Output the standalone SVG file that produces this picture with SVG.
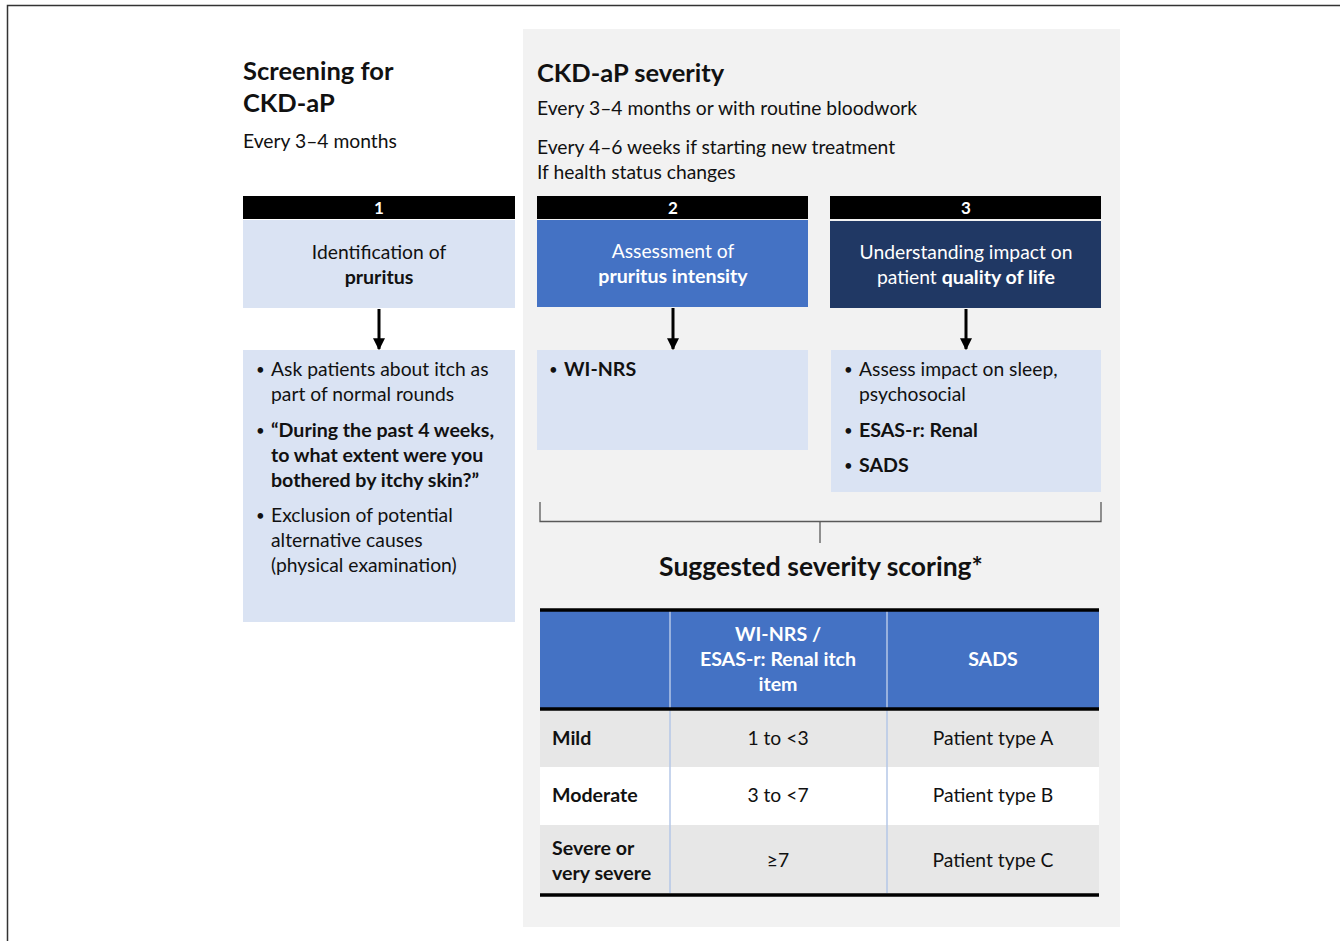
<svg xmlns="http://www.w3.org/2000/svg" width="1340" height="941" viewBox="0 0 1340 941">
<defs>
<style>
text{font-family:Lato,"Liberation Sans",sans-serif;fill:#111}
.t{font-size:25.5px;font-weight:bold}
.t2{font-size:26.5px;font-weight:bold}
.s{font-size:19.3px}
.b{font-weight:bold;font-size:19.6px}
.bu{font-size:15px}
.c{text-anchor:middle}
.w{fill:#fff}
.num{font-size:17px;font-weight:bold;fill:#fff;text-anchor:middle}
.bar{fill:#000}
.lt{fill:#dae3f3}
.conn{stroke:#000;stroke-width:3;fill:none}
.br{stroke:#595959;stroke-width:1.3;fill:none}
.div{stroke:#b4c7e7;stroke-width:1.5}
.rule{stroke:#000;stroke-width:3.5}
</style>
<marker id="ah" viewBox="0 0 10 10" refX="9" refY="5" markerWidth="4" markerHeight="4" markerUnits="strokeWidth" orient="auto">
<path d="M0,0 L10,5 L0,10 z" fill="#000"/>
</marker>
</defs>
<rect width="1340" height="941" fill="#fff"/>
<path d="M7.5,941 V5.5 H1340" stroke="#333" stroke-width="1.5" fill="none"/>

<rect id="panel" x="523" y="29" width="597" height="898" fill="#f2f2f2"/>

<g id="screening-title">
<text class="t" x="243" y="80">Screening for</text>
<text class="t" x="243" y="112">CKD-aP</text>
<text class="s" x="243" y="148">Every 3–4 months</text>
</g>

<g id="severity-title">
<text class="t" x="537" y="82">CKD-aP severity</text>
<text class="s" x="537" y="115">Every 3–4 months or with routine bloodwork</text>
<text class="s" x="537" y="154">Every 4–6 weeks if starting new treatment</text>
<text class="s" x="537" y="179">If health status changes</text>
</g>

<g id="step1">
<rect class="bar" x="243" y="196" width="272" height="23"/>
<text class="num" x="379" y="214">1</text>
<rect class="lt" x="243" y="220" width="272" height="88"/>
<text class="s c" x="379" y="259">Identification of</text>
<text class="s c b" x="379" y="284">pruritus</text>
</g>
<g id="step1-detail">
<rect class="lt" x="243" y="350" width="272" height="272"/>
<text class="bu" x="256" y="375">•</text>
<text class="s" x="271" y="376">Ask patients about itch as</text>
<text class="s" x="271" y="401">part of normal rounds</text>
<text class="bu" x="256" y="436">•</text>
<text class="s b" x="271" y="437">“During the past 4 weeks,</text>
<text class="s b" x="271" y="462">to what extent were you</text>
<text class="s b" x="271" y="487">bothered by itchy skin?”</text>
<text class="bu" x="256" y="521">•</text>
<text class="s" x="271" y="522">Exclusion of potential</text>
<text class="s" x="271" y="547">alternative causes</text>
<text class="s" x="271" y="572">(physical examination)</text>
</g>

<g id="step2">
<rect class="bar" x="537" y="196" width="271" height="23"/>
<text class="num" x="673" y="214">2</text>
<rect x="537" y="220" width="271" height="87" fill="#4472c4"/>
<text class="s c w" x="673" y="258">Assessment of</text>
<text class="s c w b" x="673" y="283">pruritus intensity</text>
</g>
<g id="step2-detail">
<rect class="lt" x="537" y="350" width="271" height="100"/>
<text class="bu" x="549" y="375">•</text>
<text class="s b" x="564" y="376">WI-NRS</text>
</g>

<g id="step3">
<rect class="bar" x="830" y="196" width="271" height="23"/>
<text class="num" x="966" y="214">3</text>
<rect x="830" y="221" width="271" height="87" fill="#203864"/>
<text class="s c w" x="966" y="259">Understanding impact on</text>
<text class="s c w" x="966" y="284">patient <tspan class="b">quality of life</tspan></text>
</g>
<g id="step3-detail">
<rect class="lt" x="831" y="350" width="270" height="142"/>
<text class="bu" x="844" y="375">•</text>
<text class="s" x="859" y="376">Assess impact on sleep,</text>
<text class="s" x="859" y="401">psychosocial</text>
<text class="bu" x="844" y="436">•</text>
<text class="s b" x="859" y="437">ESAS-r: Renal</text>
<text class="bu" x="844" y="471">•</text>
<text class="s b" x="859" y="472">SADS</text>
</g>

<g id="connectors">
<line class="conn" x1="379" y1="309" x2="379" y2="349" marker-end="url(#ah)"/>
<line class="conn" x1="673" y1="308" x2="673" y2="349" marker-end="url(#ah)"/>
<line class="conn" x1="966" y1="309" x2="966" y2="349" marker-end="url(#ah)"/>
<path class="br" d="M540,502 V521.5 H1101 V502"/>
<line class="br" x1="820" y1="521.5" x2="820" y2="543"/>
</g>

<g id="scoring-title">
<text class="t2 c" x="821" y="576">Suggested severity scoring*</text>
</g>

<g id="table">
<rect x="540" y="610" width="559" height="98" fill="#4472c4"/>
<rect x="540" y="710" width="559" height="57" fill="#e7e7e7"/>
<rect x="540" y="767" width="559" height="58" fill="#fff"/>
<rect x="540" y="825" width="559" height="69" fill="#e7e7e7"/>
<line class="div" x1="670" y1="611" x2="670" y2="893"/>
<line class="div" x1="887" y1="611" x2="887" y2="893"/>
<line class="rule" x1="540" y1="610" x2="1099" y2="610"/>
<line class="rule" x1="540" y1="709" x2="1099" y2="709"/>
<line class="rule" x1="540" y1="895" x2="1099" y2="895"/>
<text class="s c w b" x="778" y="641">WI-NRS /</text>
<text class="s c w b" x="778" y="666">ESAS-r: Renal itch</text>
<text class="s c w b" x="778" y="691">item</text>
<text class="s c w b" x="993" y="666">SADS</text>
<text class="s b" x="552" y="745">Mild</text>
<text class="s c" x="778" y="745">1 to &lt;3</text>
<text class="s c" x="993" y="745">Patient type A</text>
<text class="s b" x="552" y="802">Moderate</text>
<text class="s c" x="778" y="802">3 to &lt;7</text>
<text class="s c" x="993" y="802">Patient type B</text>
<text class="s b" x="552" y="855">Severe or</text>
<text class="s b" x="552" y="880">very severe</text>
<text class="s c" x="778" y="867">≥7</text>
<text class="s c" x="993" y="867">Patient type C</text>
</g>
</svg>
